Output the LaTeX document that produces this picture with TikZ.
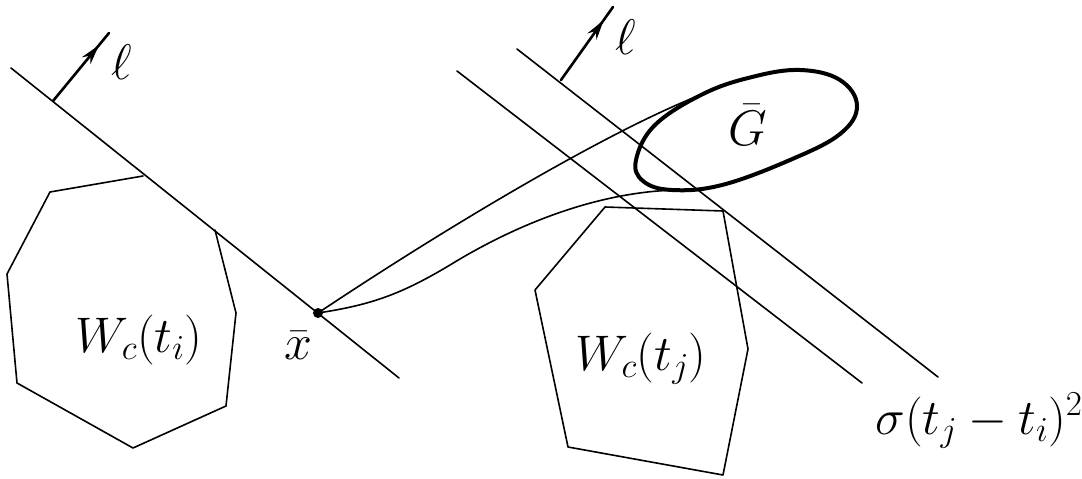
\RequirePackage{fix-cm}
\documentclass[tikz,border=0pt]{standalone}
\usetikzlibrary{arrows.meta,decorations.markings}
\tikzset{
  thinline/.style={line width=1.6pt, line join=round, line cap=round},
  thickline/.style={line width=4pt, line join=round},
  dirarrow/.style={line width=2.6pt, line cap=round,
    decoration={markings, mark=at position 0.82 with {\arrow{Stealth[length=20pt,width=11pt]}}},
    postaction={decorate}},
  lbl/.style={inner sep=0pt, font=\fontsize{50}{56}\selectfont},
}
\begin{document}
\begin{tikzpicture}[x=1pt,y=-1pt]
\useasboundingbox (0,0) rectangle (1082,479);
% left supporting line
\coordinate (L1a) at (11,68);
\coordinate (L1b) at (399,378);
\draw[thinline] (L1a) -- (L1b);
% arrow l (left)
\coordinate (A1s) at (53,101);
\coordinate (A1e) at (109,33);
\draw[dirarrow] (A1s) -- (A1e);
\node[lbl] (ell1) at (122,62) {$\ell$};
% left polygon W_c(t_i)
\coordinate (p1) at (143,176);
\coordinate (p2) at (50,192);
\coordinate (p3) at (7,274);
\coordinate (p4) at (17,383);
\coordinate (p5) at (133,448);
\coordinate (p6) at (226,406);
\coordinate (p7) at (236,313);
\coordinate (p8) at (215,230);
\draw[thinline] (p1) -- (p2) -- (p3) -- (p4) -- (p5) -- (p6) -- (p7) -- (p8);
\node[lbl, anchor=base] (Wi) at (139,352) {$W_c(t_i)$};
% point x
\node[circle, fill=black, inner sep=0pt, minimum size=10pt] (X) at (318,313) {};
\node[lbl] (xbar) at (298,346) {$\bar{x}$};
% right lines
\coordinate (LBa) at (457,71);
\coordinate (LBb) at (862,383);
\draw[thinline] (LBa) -- (LBb);
\coordinate (LAa) at (517,49);
\coordinate (LAb) at (938,377);
\draw[thinline] (LAa) -- (LAb);
\coordinate (A2s) at (561,80);
\coordinate (A2e) at (613,7);
\draw[dirarrow] (A2s) -- (A2e);
\node[lbl] (ell2) at (626,37) {$\ell$};
% right polygon W_c(t_j)
\coordinate (q1) at (605,207);
\coordinate (q2) at (723,211);
\coordinate (q3) at (748,349);
\coordinate (q4) at (723,475);
\coordinate (q5) at (568,447);
\coordinate (q6) at (535,290);
\draw[thinline] (q1) -- (q2) -- (q3) -- (q4) -- (q5) -- (q6) -- cycle;
\node[lbl, anchor=base] (Wj) at (641,370) {$W_c(t_j)$};
% set G (hand-drawn oval)
\draw[thickline] plot[smooth cycle, tension=0.65] coordinates {
  (636,160) (655,125) (703,94) (752,77) (800,70) (840,80) (857,106)
  (840,134) (790,160) (722,185) (672,190) (643,181)};
\node[lbl] (G) at (748,125) {$\bar{G}$};
% curves from x to G
\coordinate (Gtop) at (703,94);
\coordinate (Gbot) at (676,190);
\coordinate (mid) at (450,265);
\draw[thinline] (X.center) .. controls (450,225) and (610,130) .. (Gtop);
\draw[thinline] (X.center) .. controls (370,305) and (400,295) .. (mid)
   .. controls (520,222) and (600,192) .. (Gbot);
% label sigma
\node[lbl, anchor=base] (sig) at (979,434) {$\sigma(t_j-t_i)^2$};
\end{tikzpicture}
\end{document}
